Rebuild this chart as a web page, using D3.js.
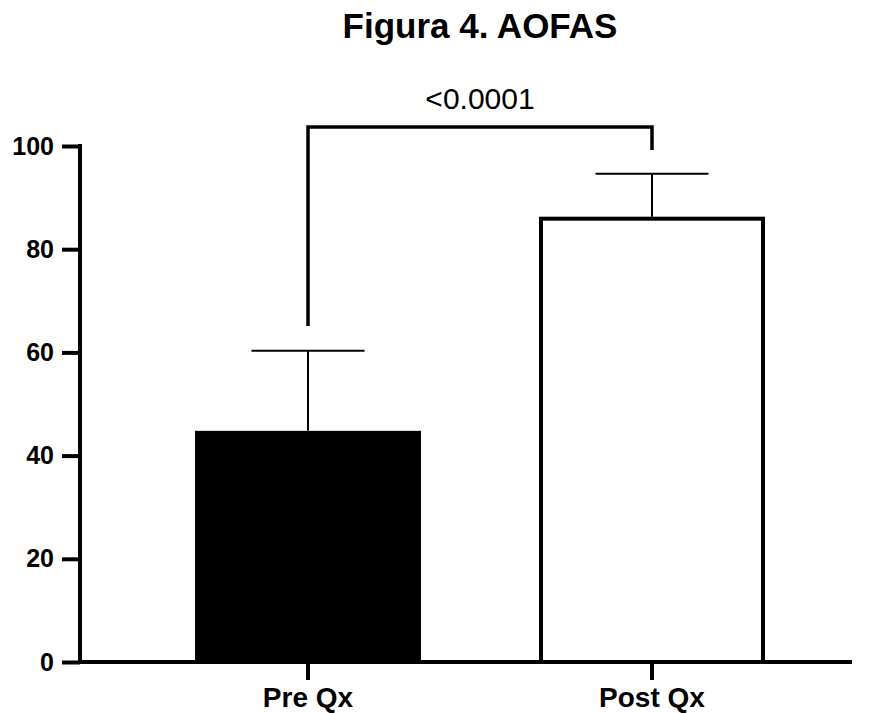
<!DOCTYPE html>
<html><head><meta charset="utf-8">
<script src="https://cdn.jsdelivr.net/npm/d3@7"></script>
<style>body{margin:0;background:#fff}</style>
</head><body>
<svg id="c" width="870" height="713"></svg>
<script>
const categories = ["Pre Qx", "Post Qx"];
const means = [44.8, 86.3];
const sds = [15.5, 8.3];
const yTicks = [0, 20, 40, 60, 80, 100];
const title = "Figura 4. AOFAS";
const pLabel = "<0.0001";

const svg = d3.select("#c");
const font = "Arial, 'Liberation Sans', sans-serif";
const y = d3.scaleLinear().domain([0, 100]).range([662, 146]);
const x = d3.scaleBand().domain(categories).range([136, 824]).paddingInner(0.343).paddingOuter(0.1715);

svg.append("text").attr("x", 480).attr("y", 38).attr("text-anchor", "middle")
  .attr("font-family", font).attr("font-weight", "bold").attr("font-size", 35).text(title);

// bars
const fills = ["#000", "#fff"];
categories.forEach((c, i) => {
  const sw = 4;
  svg.append("rect").attr("x", x(c) + sw/2).attr("y", y(means[i]) + sw/2)
    .attr("width", x.bandwidth() - sw).attr("height", y(0) - y(means[i]) - sw/2)
    .attr("fill", fills[i]).attr("stroke", "#000").attr("stroke-width", sw);
  const cx = x(c) + x.bandwidth()/2;
  const top = y(means[i] + sds[i]);
  svg.append("line").attr("x1", cx).attr("x2", cx).attr("y1", y(means[i])).attr("y2", top)
    .attr("stroke", "#000").attr("stroke-width", 2);
  svg.append("line").attr("x1", cx - x.bandwidth()/4).attr("x2", cx + x.bandwidth()/4)
    .attr("y1", top).attr("y2", top).attr("stroke", "#000").attr("stroke-width", 2);
});

// y axis
const ya = svg.append("g").attr("transform", "translate(80,0)")
  .call(d3.axisLeft(y).tickValues(yTicks).tickSize(18).tickPadding(8));
ya.select(".domain").attr("stroke-width", 4).attr("d", `M0,${y(100)-2}V${y(0)+2}`);
ya.selectAll(".tick line").attr("stroke-width", 4);
ya.selectAll("text").attr("font-family", font).attr("font-weight", "bold").attr("font-size", 25).attr("fill", "#000");

// x axis
const xa = svg.append("g").attr("transform", `translate(0,${y(0)})`)
  .call(d3.axisBottom(x).tickSize(18).tickPadding(7));
xa.select(".domain").attr("stroke-width", 4).attr("d", "M78,0H852");
xa.selectAll(".tick line").attr("stroke-width", 4);
xa.selectAll("text").attr("font-family", font).attr("font-weight", "bold").attr("font-size", 28).attr("fill", "#000");

// significance bracket
const cx0 = x(categories[0]) + x.bandwidth()/2, cx1 = x(categories[1]) + x.bandwidth()/2;
const by = 127;
svg.append("path").attr("d", `M${cx0},326V${by}H${cx1}V150`)
  .attr("fill", "none").attr("stroke", "#000").attr("stroke-width", 3.5);
svg.append("text").attr("x", (cx0 + cx1)/2).attr("y", 109).attr("text-anchor", "middle")
  .attr("font-family", font).attr("font-size", 30).text(pLabel);
</script>
</body></html>
